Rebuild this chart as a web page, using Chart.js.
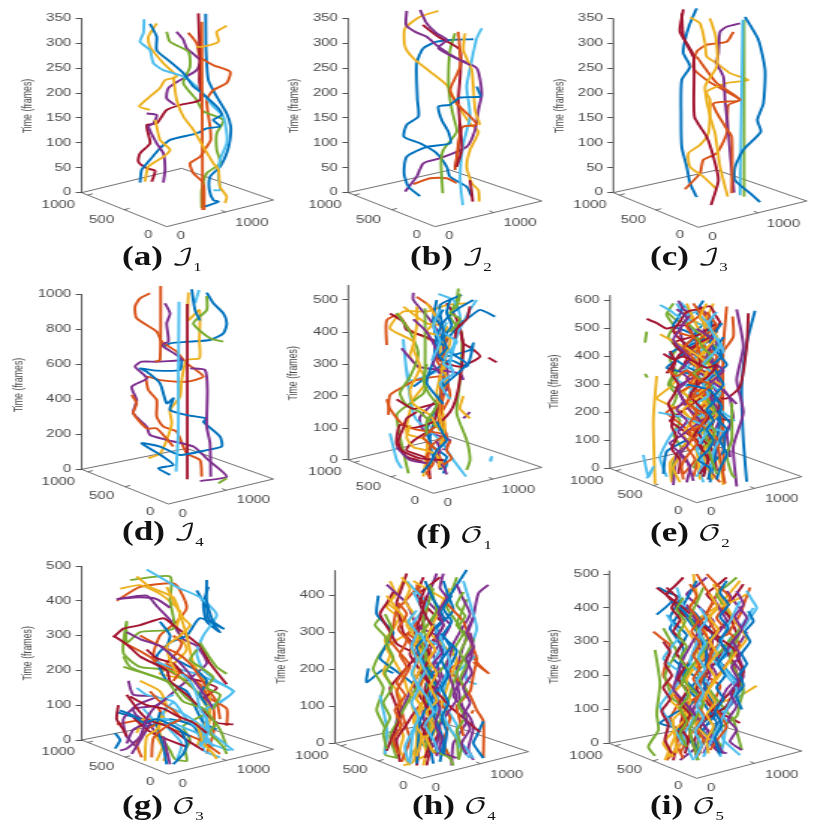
<!DOCTYPE html>
<html lang="en">
<head>
<meta charset="UTF-8">
<title>Trajectories</title>
<script src="https://cdn.jsdelivr.net/npm/chart.js"></script>
<style>
  body { margin: 0; background: #fff; width: 831px; height: 830px; position: relative; overflow: hidden; }
  canvas { position: absolute; transform-origin: 0 0; filter: blur(0.35px); }
  .cap { position: absolute; font: bold 27px "Liberation Serif", serif; color: #111; white-space: nowrap; transform-origin: 0 0; transform: scaleX(1.3); }
  .cap i { font: normal 23px "DejaVu Math TeX Gyre", "DejaVu Serif", "DejaVu Sans", serif; }
  .cap sub { font: normal 13px "Liberation Serif", serif; }
</style>
</head>
<body>
<script>
// matlab default line order, tracks below follow this order ([] = colour not used in that round)
const lineColors = ['#0072BD', '#D95319', '#EDB120', '#7E2F8E', '#77AC30', '#4DBEEE', '#A2142F'];

const ticks350 = [0, 50, 100, 150, 200, 250, 300, 350];
const ticks1000 = [0, 200, 400, 600, 800, 1000];
const ticks500 = [0, 100, 200, 300, 400, 500];
const ticks600 = [0, 100, 200, 300, 400, 500, 600];
const ticks400 = [0, 100, 200, 300, 400];
const floorLabels = ['1000', '500', '0', '0', '1000'];

// each track: x (projected), time (frames), x, time, ...
const tracksA = [
  [617,359,618,286,625,226,650,193,680,159,692,133,690,106,680,79,660,52,630,32,628,5,640,-15,655,-18,615,-28],
  [565,321,590,300,600,273,640,256,690,243,680,220,640,206,620,186,630,133,632,106,620,92,600,72,570,59,580,39,610,19,612,-35],
  [470,340,445,313,450,293,490,260,530,233,495,226,480,210,450,193,418,173,450,166],
  [530,323,550,307,560,290,600,266,590,246,540,226,505,210,500,189,525,176],
  [500,323,510,303,565,283,570,253,550,220,590,186,610,163,670,146,650,119,650,86,660,59,620,39,605,5,605,-31],
  [432,348,430,320,420,303,450,286,460,260,490,246,550,233,600,206,640,173,670,153,680,119,680,99,660,66,655,32,660,5,640,5],
  [595,360,598,307,600,273,598,226,600,186,540,176,500,166,470,139,440,136,450,99,420,79,415,62,440,49,465,44,455,22],
  [450,339,470,313,470,286,510,263,550,240,580,213,600,203,650,173,665,156,640,146,660,133,620,129,590,119,510,106,480,89,450,66,425,46,420,20],
  [605,343,608,-35],
  [680,335,650,323,655,303,610,293,590,293],
  [440,159,470,156,460,139,445,133,470,99,490,79,495,46,490,20],
  [], [], [], [], [],
  [520,233,530,186,550,153,580,126,610,92,640,59,655,46,660,12,680,-8,675,-21],
  [], [], [], [], [], [],
  [435,22,445,52,490,72,510,86,480,106,470,133,465,146]
];
const tracksB = [
  [580,308,520,307,470,303,430,290,410,260,412,186,415,153,380,136,372,112,420,99,470,79,500,52,510,32,560,12,575,-8],
  [400,17,450,29,500,29,530,19],
  [475,365,420,353,375,330,375,293,400,270,450,243,500,216,530,179,570,139,595,122,570,86,560,52,575,19,595,5,598,-18],
  [380,365,378,337,405,323,440,313,475,293,530,270,590,250,605,199,595,166,585,126,560,92,480,69,430,59,410,32,375,2],
  [525,320,510,286,505,226,510,186,520,153,530,122,490,86,483,59,488,-1],
  [605,330,590,310,575,266,560,213,570,153,550,99,540,32,548,-25],
  [428,337,475,313,540,286,535,186,540,119,525,46],
  [510,176,475,173,485,146,505,122,510,99,440,92,380,72,372,39,385,12,420,-7],
  [535,323,540,253,510,206,530,179,570,153,590,136,550,133,540,119,525,46],
  [555,320,550,286,575,246,585,166,600,136],
  [420,367,440,340,470,320,500,307,475,290,570,256],
  [], [],
  [540,139,545,86,530,52],
  [590,213,600,193,540,191,510,176],
  [], [], [], [], [],
  [570,25,578,-18]
];
const tracksC = [
  [440,370,420,340,405,307,400,280,420,253,395,226,393,153,395,92,410,52,420,19,440,-9],
  [550,323,530,303,470,297,440,283,430,250,470,226,520,206,570,186,535,176,530,119,500,79,460,66,450,39,405,7],
  [420,352,450,340,465,300,470,273,500,260,540,240,595,226,530,220,470,203,480,186,475,119,450,96,415,79,420,52,460,32,500,7],
  [570,340,530,333,510,323,505,280,500,260,520,233,525,186,535,119,542,66,552,0],
  [582,347,582,-8],
  [578,347,570,-5],
  [400,368,390,323,430,276,433,153,470,112,490,72,505,25,483,-25],
  [585,353,625,307,645,246,640,179,622,146,632,122,580,86,555,52,555,25,600,-1,630,-19],
  [440,273,500,220,570,186,490,179,525,133,545,112,545,-1],
  [480,350,497,313,500,253,465,213,480,153,495,119,510,52,533,-8],
  [], [], [],
  [395,360,400,313,430,273]
];
const tracksD = [
  [620,1010,640,949,670,891,680,834,670,777,630,739,570,730,510,720,490,701],
  [450,1006,420,977,405,930,410,863,470,787,485,730,530,672,560,606,610,530,560,501,480,510,440,530,445,453,470,396,470,301,490,244,530,215,560,91,600,53,605,-42],
  [565,1010,565,853,598,910,598,739,598,634,560,625,545,510,540,415,510,339,515,263,500,168,480,91,445,63],
  [495,949,510,891,500,834,505,730,485,710,530,653,545,625,470,615,425,615,405,587,440,520,395,472,410,396,400,320,440,244,450,196,500,168,580,130,625,53,680,-42,600,-67],
  [620,990,620,910,580,834,630,749,670,730],
  [597,1025,585,949],
  [562,945,562,-57],
  [545,625,540,568,470,564,420,577,440,558,480,491,500,377,520,406,510,339,560,310,620,291,610,272,660,187,665,130,620,110,540,82,480,130,425,149,490,72,520,25,475,6,510,-32],
  [482,1048,480,625,465,615],
  [],
  [570,577,615,568,622,453,620,244,630,149,632,-42],
  [655,-80,680,-51],
  [537,958,535,510,535,225,528,-13],
  [],
  [575,1029,585,910,600,850],
  [395,425,410,377,400,320,440,234,470,234,520,130]
];
const tracksF = [
  [675,448,630,469,600,448,570,427,520,354,525,292,515,219,500,146,480,73,490,10,530,-5,520,-42],
  [350,359,350,437,385,453,420,406,490,370,500,312,530,260,520,198,510,135,530,73,500,21,510,-31],
  [590,490,530,484,470,464,400,464,360,411,430,370,420,323,470,250,430,188,410,83,470,62,460,-52],
  [430,523,430,500,480,438,510,385,530,292,530,219,450,135,460,94,540,62,520,31],
  [565,536,560,500,540,448,575,396,570,250,560,146,590,62,600,0,590,-31],
  [505,519,550,500,570,448,540,312,510,281,420,250,400,375,410,271,425,167,440,125,510,62,550,0,588,-52],
  [360,458,400,432,410,406,490,375,510,312,570,292,630,323,605,349,580,365,570,417],
  [575,516,510,484,520,396,505,344,520,323,600,344,610,365,590,292,540,312,470,260,430,229],
  [355,141,360,203,400,229,440,250,520,260,540,200,510,140],
  [400,479,470,427,530,417,510,344,530,250,510,198,525,104,505,31,480,-21],
  [395,349,420,318,445,292,510,281,570,270,580,250],
  [465,474,465,229,460,208,420,177,380,141,415,-42],
  [360,83,380,0,395,-26],
  [530,490,560,440,580,360,575,290,560,200,540,150,490,100,430,60,410,30,470,5,480,-60],
  [500,500,490,440,500,380,550,330,590,300,520,230,500,170,470,90,490,40,530,10,510,-30],
  [440,510,480,480,510,420,530,390,520,320,510,260,515,170,500,110,460,70,500,30,520,-20],
  [470,490,500,440,470,400,540,380,520,300,500,210,510,130,520,70,500,20,520,-25],
  [600,150,580,130],
  [380,460,420,400,445,330,420,260,390,210,410,170,450,150,480,120,520,90],
  [620,500,600,470,580,430,560,390,540,300,550,270,510,240,540,190],
  [380,190,430,160,500,175,490,120,430,100,390,110,380,50,410,10,460,-5],
  [610,500,560,470,520,430,500,380,490,310,470,240,520,175],
  [350,190,360,160,400,110,440,95,520,80,480,40,470,-30],
  [440,480,440,420,430,350,450,290,420,220,430,175,480,140,510,90],
  [380,40,420,0,470,-10],
  [],
  [660,-2,665,10,662,-5],
  [655,320,680,305],
  [540,500,530,460,545,420,520,380,530,350,505,320],
  [480,30,470,10,490,-10,470,-40,480,-55],
  [580,200,570,160,600,130],
  [500,60,510,30,495,0,520,-20,530,-45],
  [470,300,460,250,475,210,500,170,470,120,470,80],
  [530,430,520,400,560,370,530,330,520,300,550,280],
  [600,480,590,440,560,410,555,380],
  [520,470,500,440,520,410,510,370,495,340,520,310],
  [540,60,530,30,545,5,520,-15],
  [420,110,410,70,430,40,470,30,500,15,510,-25],
  [430,440,470,400,500,340,490,300,510,270],
  [570,520,560,480,540,460,570,440,540,400],
  [510,470,490,420,510,370,485,310],
  [440,150,410,130,400,100,385,60,395,30,450,5,520,0],
  [500,120,520,80,530,60,500,30,480,-10,455,-40]
];
const tracksE = [
  [645,564,620,447,605,292,610,101,620,-48],
  [560,579,550,436,548,197,550,66,552,-10],
  [350,331,340,173,345,-56],
  [590,569,610,436,590,316,610,200,580,78,590,-65],
  [400,590,380,550,400,510,385,470,410,430,390,390,405,350,385,300,410,260,395,210,420,170,400,120,425,70,400,20,395,-40],
  [420,595,450,560,440,520,470,480,450,440,480,400,460,360,480,320,450,270,475,230,460,190,490,140,470,90,495,40,480,-10,490,-50],
  [625,555,620,436,600,292,560,250,540,250,510,240,470,200,530,180,580,170],
  [490,600,470,560,490,520,465,480,490,440,510,400,480,360,510,310,480,270,510,220,490,170,510,130,480,80,500,30,490,-30],
  [578,543,580,471,550,418,530,360,550,290,535,240,540,200,545,120,520,40,505,-40],
  [430,560,460,530,500,500,480,460,500,420,470,390,440,360,390,290,350,250,400,220,440,190,470,150,500,110,520,60,540,20,550,-60],
  [480,580,510,530,490,490,530,450,510,410,530,360,505,320,530,270,510,230,540,180,515,110,530,60,510,-10],
  [380,560,410,530,440,520,470,490,500,460,530,430,500,400,470,400,430,370,390,300,420,280,440,260,460,220,480,180,500,100,460,0],
  [410,590,430,550,450,530,490,510,520,490,550,420,520,380,490,330,515,300,540,270,520,230,500,200,470,180,440,160,400,130,360,40,380,-30],
  [320,535,350,520,380,500,410,510,440,510,470,450,450,410,430,360,470,330,500,300,520,260,540,230,500,180,470,140,490,100,520,60,530,-10],
  [430,580,415,540,400,510,440,490,470,470,430,440,390,410,430,370,480,340,520,310,495,280,470,260,510,230,540,200,570,160,555,110,550,60,500,0],
  [480,570,505,530,530,490,500,450,470,420,510,380,540,340,510,310,480,280,455,255,430,230,400,215,380,200,415,165,450,130,470,100,490,70,470,10,460,-30],
  [520,590,505,550,490,520,505,480,520,450,495,420,480,400,475,360,470,320,450,295,430,270,465,250,500,230,490,190,480,150,455,115,430,80,410,50,390,20,395,-50],
  [415,600,430,570,450,550,430,520,420,490,430,450,440,420,475,400,510,380,525,340,540,300,555,275,570,250,575,215,580,180,570,155,560,130,565,85,570,40],
  [320,489,315,450],
  [360,585,390,565,420,540,445,550,470,560,490,535,510,510,500,470,490,430,465,395,440,360,425,340,410,320,465,275,520,230,550,200,585,170],
  [530,520,505,500,480,480,440,465,400,450,425,415,450,380,480,355,510,330,500,295,490,260,450,225,410,190,390,170,430,135,470,100,490,65,510,30],
  [520,540,510,505,500,470,475,455,450,440,435,420,420,400,400,380,380,360,425,345,470,330,495,290,520,250,515,220,510,190,495,160,480,130,430,95,380,60,370,-20],
  [400,490,430,480,460,470,495,435,530,400,515,365,500,330,460,300,420,270,440,230,460,190,485,165,510,140,520,110,530,80,515,45,500,10,540,-50],
  [440,590,455,550,470,510,485,485,500,460,470,430,440,400,465,370,490,340,520,315,550,290,515,255,480,220,455,170,430,120,450,90,470,60,480,-40],
  [590,230,565,260,540,290,510,315,480,340,445,315,410,290,425,255,440,220,460,195,480,170,465,135,450,100,430,75,410,50,400,-60],
  [315,338,322,325],
  [310,48,325,-30,340,5,320,-36],
  [380,340,400,375,420,410,465,440,510,470,525,495,540,520,525,550,510,580,475,570,440,560,420,525,400,490,440,440,480,390,475,345,470,300,505,270,540,240,525,185,510,130,510,60,490,-30],
  [545,520,525,485,510,450,535,410,560,370,530,340,500,310,510,265,520,220,530,200,540,180,535,135,530,90,525,55,520,20,510,-50],
  [500,560,515,535,530,510,500,480,470,450,480,410,490,370,470,335,450,300,480,275,510,250,485,215,460,180,495,145,530,110,535,75,540,40,555,-55],
  [360,480,400,455,440,430,470,405,500,380,515,355,530,330,505,295,480,260,455,235,430,210,450,180,470,150,450,110,430,70,415,35,400,0,420,-50],
  [470,500,495,480,520,460,510,430,500,400,525,375,550,350,525,320,500,290,515,250,530,210,490,175,450,140,420,115,390,90,415,60,440,30,460,-45],
  [575,235,575,100,560,50,575,-20,585,-35],
  [355,200,400,190,440,180,470,165,500,150,525,140,550,130,535,95,520,60,510,-20],
  [390,420,405,380,395,340,415,300,400,260,385,230,400,190,395,150,410,110,395,70,420,30,415,-20],
  [550,470,535,440,545,400,520,370,535,330,550,300,525,260,545,220,530,180,560,140,540,100,560,50,540,0,530,-40],
  [460,590,480,550,440,510,460,470,430,430,455,400,475,360,440,320,470,280,440,240,470,200,450,160,470,120,440,80,465,30,430,-20],
  [500,590,480,540,510,500,530,470,500,430,480,400,510,370,495,330,505,300,480,270,500,230,530,190,500,150,520,110,490,60,500,10,520,-40],
  [410,570,440,540,420,500,400,460,425,425,450,390,420,350,445,320,415,280,430,240,410,210,440,170,415,130,445,90,420,50,450,10,440,-50],
  [470,470,490,430,515,400,485,360,460,340,490,310,515,290,500,250,525,210,505,170,525,130,505,80,515,30,530,-20],
  [530,560,505,520,520,480,540,440,520,410,490,375,515,340,490,300,505,260,470,230,490,190,510,160,490,110,470,70,490,20,470,-30],
  [370,410,400,390,430,400,465,380,500,360,530,370,505,330,475,300,450,260,480,220,505,180,480,150,460,110,485,70,505,30,480,-20],
  [440,300,480,290,510,280,530,250,500,210,520,170,500,140,520,100,500,60,475,30,510,0,505,-40],
  [385,350,410,330,440,350,470,320,510,300,480,265,440,240,470,210,500,190,480,150,445,130,470,90,445,50,425,10,430,-40]
];
const tracksG = [
  [590,430,620,380,625,350,660,310,620,340,610,390,625,440],
  [350,400,420,440,520,450,540,430,560,380,530,340,480,300,460,230,540,180,600,130,640,90,640,20,620,-40],
  [360,435,420,445,480,420,540,370,530,320,560,260,510,210,480,190,580,170,620,130,630,60,610,0],
  [350,405,440,415,470,385,510,345,550,290,590,270,620,220,560,170,470,100,400,90,410,70,450,45,470,10],
  [390,460,510,470,510,400,520,320,420,310,380,280,380,340,370,250,420,210,510,200,590,140,630,80],
  [440,490,530,440,600,410,650,360,610,300,590,250,610,200,650,170,700,140,650,100,610,70,620,10,640,-20],
  [340,295,370,320,420,330,490,350,520,330,600,270,630,220,680,160],
  [620,460,620,400,640,340,670,320,600,350,560,300,510,280,470,240,500,170,560,140,610,50,650,30],
  [370,280,430,250,500,210,550,190,600,160,630,120,680,90,680,40],
  [410,470,450,440,520,410,540,360,560,300,580,220,620,160,630,90,610,30,590,-20],
  [350,405,420,410,470,405,510,380],
  [370,210,440,190,520,160,560,120,620,80,550,40,570,0,555,-30],
  [470,225,510,210,590,190,700,140,660,110,620,90,620,50,600,-15],
  [340,300,380,275,420,240,500,200,510,170,560,130,650,50,700,45],
  [350,80,420,60,440,40,510,60,580,40,610,-10],
  [350,45,450,60,520,30,600,0,660,-40],
  [410,20,430,60,480,50,470,10,500,-40,490,-60],
  [385,170,400,130,470,125,410,100,370,60,380,10,410,-20],
  [370,240,390,210,440,190,500,170,550,110,610,90,660,30,680,-20],
  [410,150,440,130,520,110,560,60,620,10,610,-30,660,-50],
  [355,100,350,60,370,30,380,10],
  [345,20,360,0,345,-25],
  [470,100,490,60,440,30,410,-10,425,-50],
  [420,170,480,140,500,90,470,50,490,-10,470,-60],
  [380,-10,400,30,450,50,395,-40],
  [490,0,510,-30,525,-55,560,-60,555,-30],
  [520,110,490,80,500,40,545,-10,530,-60],
  [400,65,440,30,480,10,560,-20],
  [480,80,470,40,490,-20,500,-70],
  [520,300,545,280,530,250,500,220,540,200,520,170],
  [490,70,470,30,440,10,435,-60],
  [510,-70,490,10],
  [600,280,620,250,650,210,680,190],
  [520,130,480,110,560,70,620,30,700,-30],
  [440,260,470,235,520,220,560,180,600,170,650,150,610,120],
  [480,340,510,300,500,260,530,230,590,200,620,170,600,130,620,100],
  [420,300,470,275,530,250,570,220,600,180,620,150,650,110,660,60],
  [500,440,520,400,550,350,570,330,540,300,500,270,510,230,530,190],
  [380,310,420,290,480,270,530,230,560,200,590,160,620,120,640,90],
  [590,260,570,230,600,210,640,180,620,150,660,130,640,90],
  [430,90,460,60,500,60,540,40,590,20,630,-10,690,-30],
  [380,130,420,80,450,55,500,40,560,0,610,-30],
  [360,85,400,70,430,50,470,60,520,40,570,10],
  [450,140,480,110,520,85,540,60,500,40,460,5,455,-50],
  [590,50,600,20,610,-10,640,-40,650,-55],
  [500,120,460,90,440,60,420,10,380,-25,360,-30],
  [650,50,630,20,650,0,670,-20,680,-40],
  [545,190,570,170,590,130,600,90,620,60,625,20,600,-20],
  [390,125,440,100,490,90,530,70,580,50,620,20],
  [510,45,540,30,560,-10,550,-40,520,-70]
];
const tracksH = [
  [295,203,290,165,340,200,370,190],
  [610,90,605,81],
  [360,440,375,405,355,380,390,350,370,310,345,280,360,240,340,190,375,150,395,110,380,70,400,20,390,-20,420,-60],
  [655,429,625,406,610,343,590,290,560,200,570,120,590,60,550,0,545,-60],
  [330,340,315,320,345,290,350,270,325,235,310,200,340,150,320,90,350,30,345,-30,385,-40],
  [580,440,600,380,620,310,590,230,590,170,620,160],
  [460,450,445,410,470,370,460,330,440,290,455,250,480,190,465,150,470,110,490,70,510,40,480,-20,470,-60],
  [325,400,320,350,350,320,370,300,345,260,330,230,380,195,430,160,450,130,470,100,490,30,420,-30],
  [610,220,655,190,630,210,600,240,570,220,540,200,570,165,600,130,620,90,640,60,640,-40],
  [400,440,380,405,350,370,390,340,430,310,390,285,350,260,375,220,400,180,415,135,430,90,440,20,430,-50,400,-60],
  [500,460,485,425,470,390,505,355,540,320,515,280,490,240,505,205,520,170,490,130,460,90,465,50,470,10,540,-40],
  [560,450,545,410,530,370,555,335,580,300,555,260,530,220,510,195,490,170,500,125,510,80,535,45,560,10,565,-40],
  [620,240,595,220,570,200,550,190,530,180,525,145,520,110,540,80,560,50,565,20,570,-10,600,-40],
  [410,460,395,420,380,380,390,340,400,300,435,265,470,230,450,195,430,160,455,120,480,80,465,40,450,0,440,-60],
  [640,60,620,20,610,0,640,-40],
  [450,430,415,395,380,360,370,320,360,280,390,245,420,210,400,175,380,140,390,105,400,70,410,40,420,10,395,-50],
  [540,420,520,385,500,350,470,315,440,280,455,240,470,200,455,160,440,120,470,85,500,50,485,15,470,-20,460,-60],
  [350,430,380,405,410,380,425,350,440,320,470,305,500,290,475,245,450,200,430,160,410,120,395,90,380,60,370,-10],
  [590,390,575,355,560,320,585,300,610,280,585,235,560,190,545,145,530,100,515,70,500,40,530,-20,550,-60],
  [330,130,350,40,345,-30],
  [510,450,475,425,440,400,480,360,520,320,490,280,460,240,480,200,500,160,465,120,430,80,405,45,380,10,390,-50],
  [590,470,565,435,540,400,515,365,490,330,505,285,520,240,495,200,470,160,485,115,500,70,490,35,480,0,490,-55],
  [440,430,455,395,470,360,440,325,410,290,430,255,450,220,470,180,490,140,515,105,540,70,530,35,520,0,540,-40],
  [430,440,475,415,520,390,500,345,480,300,520,265,560,230,540,175,520,120,505,85,490,50,465,20,440,-10,420,-40],
  [560,430,580,390,600,350,575,310,550,270,540,240,530,210,545,165,560,120,535,85,510,50,505,15,500,-20,560,-40],
  [490,420,475,380,460,340,465,295,470,250,460,210,450,170,425,130,400,90,380,55,360,20,380,-40],
  [410,440,440,410,470,380,445,345,420,310,465,285,510,260,490,220,470,180,485,135,500,90,465,60,430,30,420,-55],
  [370,410,350,380,330,350,355,310,380,270,410,255,440,240,400,195,360,150,375,110,390,70,370,25,350,-20],
  [520,440,535,400,550,360,525,335,500,310,530,280,560,250,535,200,510,150,500,115,490,80,505,45,520,10,510,-50],
  [410,300,445,275,480,250,465,200,450,150,465,115,480,80,475,40,470,0,500,-30],
  [350,400,380,365,410,330,435,300,460,270,445,230,430,190,445,155,460,120,450,85,440,50,455,10,470,-30,440,-45],
  [600,300,610,260,590,200,570,165,550,130,575,100,600,70,610,40,595,-15,610,-45],
  [480,430,490,395,500,360,475,325,450,290,465,240,480,190,475,160,470,130,475,95,480,60,475,25,470,-10,545,-40],
  [430,410,450,375,470,340,490,315,510,290,525,255,540,220,520,165,500,110,520,75,540,40,565,10,590,-15,610,-40],
  [470,400,455,355,440,310,430,275,420,240,445,205,470,170,505,135,540,100,585,65,630,30],
  [465,440,490,390,520,340,480,300,440,260,470,205,500,150,475,105,450,60,445,0,440,-55],
  [530,380,555,355,580,330,600,280,620,230,610,185,600,140,580,120,560,100,570,60,580,20],
  [395,450,420,420,405,385,430,350,410,320,440,280,425,250,455,215,440,180,420,140,450,105,430,60,455,20,440,-35],
  [520,460,510,420,530,395,505,355,520,320,500,285,515,245,490,215,510,175,490,135,510,95,495,50,515,15,500,-35],
  [580,410,560,375,585,345,565,315,590,285,570,245,590,215,570,175,590,140,565,105,585,70,560,35,575,-10,565,-45],
  [440,360,415,330,440,300,425,265,440,225,425,190,445,150,425,110,445,70,425,30,405,-10,415,-50],
  [465,420,450,380,470,340,490,310,465,270,480,235,460,195,480,160,460,120,480,80,455,45,480,5,465,-40],
  [545,400,520,365,545,330,520,295,540,260,515,225,535,185,515,150,535,110,515,70,530,30,520,-30],
  [385,380,410,350,385,310,410,280,390,240,410,205,380,165,405,130,375,90,395,50,370,10,385,-30],
  [490,320,470,285,495,255,475,225,500,190,480,155,500,115,470,85,490,45,470,15,490,-25],
  [610,340,590,300,610,260,590,230,605,190,580,150,600,110,580,75,600,40,575,0,590,-30],
  [345,350,365,310,350,270,370,230,345,190,365,150,340,110,360,70,340,30,350,-15],
  [450,300,470,265,450,230,465,195,445,160,470,125,490,85,465,50,490,10,505,-25]
];
const tracksI = [
  [355,460,385,445,420,430,405,400,390,370,415,345,440,320,420,285,400,250,435,220,470,190,450,160,430,130,450,95,470,60,495,30,520,0,540,-35],
  [340,330,365,310,390,290,380,245,370,200,395,165,420,130,405,100,390,70,410,40,430,10,380,-50],
  [650,170,625,155,600,140,570,130,540,120,505,115,470,110,450,85,430,60,415,35,400,10,375,-50],
  [620,330,605,305,590,280,600,245,610,210,585,185,560,160,545,130,530,100,505,75,480,50,475,20,470,-10,420,-50],
  [345,276,360,177,350,89,355,39,325,-10,345,-37],
  [640,400,620,370,600,340,580,300,560,260,520,230,480,200,500,170,520,140,540,100,560,60,555,30,550,0,540,-40],
  [610,470,585,435,560,400,575,360,590,320,565,290,540,260,515,225,490,190,465,160,440,130,430,90,420,50,410,0,400,-50],
  [350,380,375,400,400,420,420,395,440,370,455,350,470,330,505,285,540,240,570,205,600,170,580,140,560,110,530,90,500,70,475,50,450,30,480,-30],
  [630,460,615,420,600,380,580,350,560,320,525,310,490,300,465,265,440,230,420,190,400,150,425,115,450,80,430,40,410,0,430,-45],
  [460,500,465,465,470,430,445,400,420,370,445,330,470,290,475,240,480,190,455,150,430,110,450,80,470,50,430,5,385,-40],
  [500,490,470,465,440,440,480,400,520,360,495,330,470,300,500,250,530,200,490,155,450,110,475,75,500,40,515,10,530,-20,560,-30],
  [370,340,390,305,410,270,390,235,375,200,385,165,400,130,425,115,450,100,465,75,480,50,475,0,470,-50],
  [620,450,635,425,650,400,630,370,610,340,590,325,570,310,555,275,540,240,575,195,610,150,575,115,540,80,545,45,550,10,600,-35],
  [560,490,530,465,500,440,535,405,570,370,545,345,520,320,515,280,510,240,490,200,470,160,495,130,520,100,560,80,600,60],
  [470,480,445,435,420,390,405,365,390,340,410,310,430,280,420,235,410,190,440,160,470,130,415,95,360,60,390,50,420,40,465,-10],
  [540,460,520,420,500,380,520,340,540,300,505,260,470,220,505,195,540,170,525,130,510,90,485,60,460,30],
  [600,480,570,445,540,410,510,390,480,370,495,330,510,290,480,250,450,210,420,170,390,130,415,105,440,80,405,40,370,0,400,-40],
  [560,450,590,410,620,370,590,320,560,270,585,235,610,200,595,165,580,130,555,90,530,50,510,10,490,-30],
  [590,490,560,465,530,440,565,390,600,340,570,305,540,270,505,240,470,210,500,170,530,130,555,100,580,70,590,35,600,0,605,-20],
  [380,380,400,350,420,320,395,285,370,250,400,225,430,200,395,155,360,110,385,70,410,30,440,-20],
  [430,490,405,465,380,440,405,410,430,380,470,355,510,330,540,295,570,260,585,220,600,180,570,150,540,120,515,95,490,70,475,35,460,0,470,-40],
  [390,420,425,405,460,390,490,355,520,320,495,300,470,280,450,240,430,200,460,160,490,120,510,90,530,60,500,15,470,-30],
  [500,500,535,465,570,430,550,400,530,370,565,330,600,290,575,255,550,220,525,190,500,160,460,130,420,100,435,65,450,30,420,-30],
  [620,440,580,420,540,400,505,375,470,350,480,305,490,260,465,225,440,190,445,155,450,120,425,95,400,70,405,20,410,-30],
  [520,430,540,395,560,360,530,320,500,280,505,240,510,200,485,150,460,100,470,65,480,30,530,-20],
  [600,330,585,290,570,250,590,205,610,160,600,120,590,80,555,55,520,30,545,-10],
  [410,460,425,420,440,380,460,355,480,330,465,285,450,240,480,205,510,170,490,130,470,90,450,55,430,20,460,-50],
  [350,460,390,430,430,400,465,370,500,340,540,310,580,280,595,245,610,210,585,160,560,110,530,90,500,70],
  [410,410,440,380,470,350,485,305,500,260,495,220,490,180,510,135,530,90,505,60,480,30],
  [470,500,495,460,520,420,500,385,480,350,500,315,520,280,500,225,480,170,520,110,560,50,535,15,510,-20],
  [520,470,550,420,580,370,600,340,620,310,590,270,560,230,530,190,500,150,485,100,470,50,490,30,510,10],
  [440,410,460,375,480,340,455,295,430,250,415,205,400,160,430,125,460,90,490,55,520,20,535,-5,550,-30],
  [490,460,470,415,450,370,475,330,500,290,465,240,430,190,460,155,490,120,470,80,450,40,460,-5,475,-50],
  [600,420,580,380,560,340,540,295,520,250,555,205,590,160,565,110,540,60,515,10,490,-40],
  [380,460,410,430,395,400,420,365,400,330,430,300,410,265,435,230,415,190,440,155,420,120,450,85,425,45,445,10,435,-30],
  [560,480,540,445,565,410,540,375,565,340,540,305,560,270,535,235,555,200,530,165,550,130,525,95,545,55,525,15,540,-30],
  [450,470,470,435,450,400,475,365,455,330,480,295,460,260,480,225,460,190,485,155,465,120,490,85,470,45,490,10,475,-35],
  [510,440,530,405,510,370,535,335,510,300,530,265,505,230,525,195,505,155,525,120,500,85,520,50,500,10,505,-30],
  [590,450,610,410,585,375,605,335,580,300,600,260,575,225,595,185,570,150,590,110,565,70,590,40,570,5,605,-20],
  [430,430,410,395,435,360,415,320,440,285,420,250,445,215,425,180,445,140,420,105,440,65,420,30,440,-10],
  [480,400,500,365,475,330,495,295,475,255,495,220,470,185,490,150,470,110,490,75,465,35,485,-5,465,-45],
  [370,300,390,270,375,235,395,200,370,165,390,130,365,95,385,55,375,10,395,-30],
  [625,390,640,360,615,330,630,300,605,265,620,235,600,205,610,170,590,140,605,100]
];

// where each small plot sits in the page. axisX/y0/yTop are in 1/3 px of the panel crop
const panels = [
  { left: 0,   top: 0,   axisX: 245, y0: 578, yTop: 55, tTop: 350, axisEnd: 350, ticks: ticks350,  tracks: tracksA, front: [500, 680], right: [820, 600], back: [545, 505], titleX: 85, titleY: 318 },
  { left: 280, top: 0,   axisX: 205, y0: 578, yTop: 55, tTop: 350, axisEnd: 350, ticks: ticks350,  tracks: tracksB, front: [465, 680], right: [785, 603], back: [510, 510], titleX: 45, titleY: 318 },
  { left: 550, top: 0,   axisX: 190, y0: 578, yTop: 55, tTop: 350, axisEnd: 350, ticks: ticks350,  tracks: tracksC, front: [445, 682], right: [770, 603], back: [500, 510], titleX: 30, titleY: 318 },
  { left: 0,   top: 280, axisX: 245, y0: 568, yTop: 43, tTop: 1000, axisEnd: 1000, ticks: ticks1000, tracks: tracksD, front: [505, 672], right: [820, 597], back: [560, 505], titleX: 55, titleY: 315 },
  { left: 270, top: 280, axisX: 235, y0: 540, yTop: 60, tTop: 500, axisEnd: 547, ticks: ticks500,  tracks: tracksF, front: [490, 640], right: [815, 562], back: [540, 470], titleX: 72, titleY: 280 },
  { left: 540, top: 280, axisX: 210, y0: 565, yTop: 62, tTop: 600, axisEnd: 620, ticks: ticks600,  tracks: tracksE, front: [470, 668], right: [785, 590], back: [520, 495], titleX: 45, titleY: 305 },
  { left: 0,   top: 550, axisX: 245, y0: 570, yTop: 48, tTop: 500, axisEnd: 500, ticks: ticks500,  tracks: tracksG, front: [505, 672], right: [820, 598], back: [550, 510], titleX: 82, titleY: 310 },
  { left: 270, top: 550, axisX: 195, y0: 580, yTop: 137, tTop: 400, axisEnd: 469, ticks: ticks400, tracks: tracksH, front: [455, 685], right: [775, 605], back: [510, 515], titleX: 35, titleY: 320 },
  { left: 540, top: 550, axisX: 208, y0: 580, yTop: 72, tTop: 500, axisEnd: 510, ticks: ticks500,  tracks: tracksI, front: [470, 685], right: [785, 603], back: [520, 520], titleX: 45, titleY: 320 }
];

const captions = [
  ['(a)', '\u2110', '1', 122, 241], ['(b)', '\u2110', '2', 410, 241], ['(c)', '\u2110', '3', 650, 241],
  ['(d)', '\u2110', '4', 122, 516], ['(f)', '\uD835\uDCAA', '1', 416, 519], ['(e)', '\uD835\uDCAA', '2', 650, 517],
  ['(g)', '\uD835\uDCAA', '3', 122, 790], ['(h)', '\uD835\uDCAA', '4', 412, 790], ['(i)', '\uD835\uDCAA', '5', 650, 790]
];

const CW = 187, CH = 280, STRETCH = 280 / CW;
const TICK_COLOR = '#4a4a4a';
const FONT = '"Liberation Sans", Arial, sans-serif';

function toPoints(flat) {
  var pts = [];
  for (var i = 0; i < flat.length; i += 2) pts.push({ x: flat[i], y: flat[i + 1] });
  return pts;
}

function frameLine(p, pairs, width) {
  var perFrame = (p.y0 - p.yTop) / p.tTop;
  return {
    data: pairs.map(function (c) { return { x: c[0], y: (p.y0 - c[1]) / perFrame }; }),
    borderColor: TICK_COLOR, borderWidth: width, pointRadius: 0, clip: false
  };
}

function drawPanel(p) {
  var perFrame = (p.y0 - p.yTop) / p.tTop;
  var cv = document.createElement('canvas');
  cv.width = CW; cv.height = CH;
  cv.style.left = p.left + 'px';
  cv.style.top = p.top + 'px';
  cv.style.transform = 'scaleX(' + STRETCH + ')';
  document.body.appendChild(cv);

  var corner = [p.axisX, p.y0];
  var ds = [
    frameLine(p, [corner, p.front, p.right, p.back, corner], 0.8),
    { data: [{ x: p.axisX, y: 0 }, { x: p.axisX, y: p.axisEnd }], borderColor: '#555', borderWidth: 1, pointRadius: 0, clip: false }
  ];
  // floor ticks
  [0.07, 0.5].forEach(function (f) {
    var x = corner[0] + (p.front[0] - corner[0]) * f, y = corner[1] + (p.front[1] - corner[1]) * f;
    ds.push(frameLine(p, [[x, y], [x + (p.right[0] - p.front[0]) * 0.05, y + (p.right[1] - p.front[1]) * 0.05]], 0.8));
  });
  [0.55].forEach(function (f) {
    var x = p.front[0] + (p.right[0] - p.front[0]) * f, y = p.front[1] + (p.right[1] - p.front[1]) * f;
    ds.push(frameLine(p, [[x, y], [x - (p.front[0] - corner[0]) * 0.05, y - (p.front[1] - corner[1]) * 0.05]], 0.8));
  });
  p.tracks.forEach(function (t, i) {
    if (!t.length) return;
    ds.push({ data: toPoints(t), borderColor: lineColors[i % lineColors.length], borderWidth: 1.9, pointRadius: 0, tension: 0.2, clip: false });
  });
  ds.forEach(function (d, i) { d.order = ds.length - i; });

  // floor labels and axis title
  var labelPlugin = {
    id: 'floorText',
    afterDraw: function (chart) {
      var c = chart.ctx, sx = CW / 840, sy = CH / 840;
      var spots = [
        [p.axisX - 70, p.y0 + 38], [p.axisX + 60, p.y0 + 82],
        [p.front[0] - 55, p.front[1] + 25], [p.front[0] + 43, p.front[1] + 30], [p.front[0] + 255, p.front[1] - 10]
      ];
      c.save();
      c.fillStyle = TICK_COLOR;
      c.font = '10px ' + FONT;
      c.textAlign = 'center';
      c.textBaseline = 'middle';
      floorLabels.forEach(function (txt, i) { c.fillText(txt, spots[i][0] * sx, spots[i][1] * sy); });
      c.translate(p.titleX * sx, p.titleY * sy);
      c.rotate(-Math.PI / 2);
      c.font = '8.8px ' + FONT;
      c.fillText('Time (frames)', 0, 0);
      c.restore();
    }
  };

  new Chart(cv, {
    type: 'scatter',
    data: { datasets: ds },
    options: {
      responsive: false,
      animation: false,
      showLine: true,
      layout: { padding: 0 },
      plugins: { legend: { display: false }, tooltip: { enabled: false }, title: { display: false } },
      scales: {
        x: { type: 'linear', display: false, min: p.axisX, max: 840 },
        y: {
          type: 'linear',
          min: (p.y0 - 840) / perFrame,
          max: p.y0 / perFrame,
          afterBuildTicks: function (s) { s.ticks = p.ticks.map(function (v) { return { value: v }; }); },
          afterFit: function (s) {
            s.width = p.axisX * CW / 840;
            s.paddingTop = 0; s.paddingBottom = 0;
          },
          border: { display: false },
          grid: { drawOnChartArea: false, drawTicks: true, tickLength: 4, color: '#555' },
          ticks: { color: TICK_COLOR, padding: 3, font: { family: FONT, size: 10 }, autoSkip: false, maxRotation: 0, callback: function (v) { return String(v); } }
        }
      }
    },
    plugins: [labelPlugin]
  });
}

panels.forEach(drawPanel);

captions.forEach(function (c) {
  var d = document.createElement('div');
  d.className = 'cap';
  d.style.left = c[3] + 'px';
  d.style.top = c[4] + 'px';
  d.innerHTML = c[0] + ' <i>' + c[1] + '</i><sub>' + c[2] + '</sub>';
  document.body.appendChild(d);
});
</script>
</body>
</html>
